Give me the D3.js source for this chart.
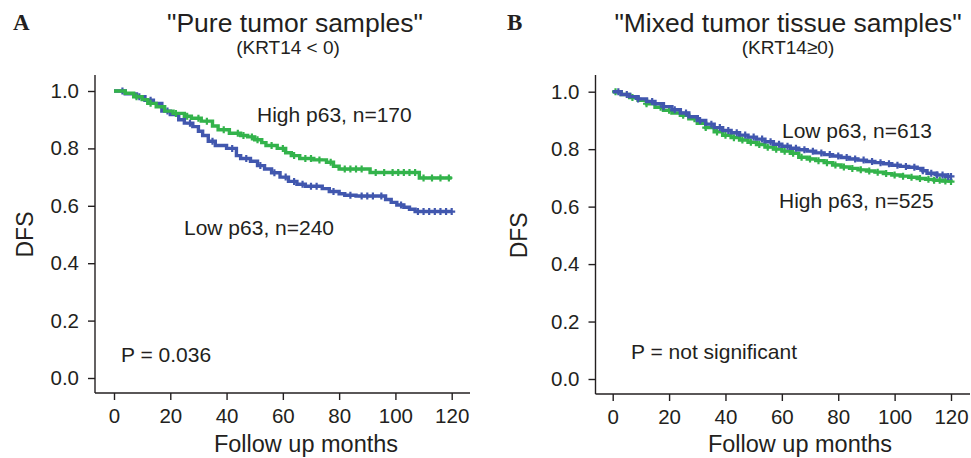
<!DOCTYPE html>
<html>
<head>
<meta charset="utf-8">
<script src="https://cdn.jsdelivr.net/npm/d3@7"></script>
<style>
  body { margin: 0; background: #fff; }
  text { fill: #231f20; }
</style>
</head>
<body>
<svg id="chart" width="971" height="458"></svg>
<script>
// 刻度
const monthTicks = [0, 20, 40, 60, 80, 100, 120]
const dfsTicks = [0, 0.2, 0.4, 0.6, 0.8, 1.0]

// A: "Pure tumor samples" 数据 (月份, DFS)
const pureHighTime = [0, 4, 7, 10, 12, 15, 18, 21, 25, 27.5, 31, 35, 37, 41, 45, 47.5, 50, 52.5, 54, 58, 61, 63, 66, 71, 75.5, 78, 80, 91, 108.5, 120]
const pureHighDfs = [1, 0.992, 0.98, 0.97, 0.957, 0.945, 0.93, 0.922, 0.912, 0.905, 0.895, 0.878, 0.865, 0.853, 0.845, 0.84, 0.83, 0.82, 0.81, 0.8, 0.785, 0.775, 0.765, 0.76, 0.752, 0.738, 0.728, 0.716, 0.697, 0.697]
const pureHighCensor = [8, 13, 22, 26, 30, 33, 39, 44, 46, 49, 51, 56, 60, 64, 68, 70, 73, 77, 82, 84, 86, 88, 93, 96, 99, 101, 103, 105, 107, 110, 113, 116, 119]

const pureLowTime = [0, 4, 8, 11, 14, 17, 20, 23, 25, 28, 30, 31.5, 33.5, 36, 40, 43.5, 45, 48.5, 51, 53.5, 56, 59, 62, 65, 68, 74, 76.5, 80, 82, 86, 96.5, 98.5, 100.5, 103, 105, 107, 120]
const pureLowDfs = [1, 0.99, 0.98, 0.968, 0.957, 0.93, 0.918, 0.9, 0.888, 0.876, 0.86, 0.845, 0.825, 0.81, 0.8, 0.775, 0.765, 0.755, 0.74, 0.728, 0.715, 0.7, 0.685, 0.675, 0.668, 0.66, 0.65, 0.642, 0.637, 0.634, 0.622, 0.612, 0.603, 0.595, 0.588, 0.58, 0.58]
const pureLowCensor = [3, 9, 13, 19, 27, 35, 42, 47, 52, 57, 61, 64, 67, 70, 72, 78, 84, 88, 90, 92, 95, 102, 108, 110, 112, 114, 116, 118, 120]

// B: "Mixed tumor tissue samples" 数据
const mixedLowTime = [0, 3, 6, 9, 12, 15, 18, 21, 24, 27, 30, 33, 36, 39, 42, 45, 48, 51, 54, 57, 60, 63, 66, 69, 72, 75, 78, 81, 84, 87, 90, 93, 96, 99, 102, 105, 108, 110, 111.5, 115, 118, 120]
const mixedLowDfs = [1, 0.99, 0.983, 0.975, 0.966, 0.958, 0.948, 0.937, 0.926, 0.913, 0.9, 0.887, 0.875, 0.865, 0.857, 0.849, 0.842, 0.835, 0.826, 0.817, 0.81, 0.803, 0.798, 0.793, 0.787, 0.781, 0.776, 0.771, 0.766, 0.762, 0.757, 0.753, 0.749, 0.744, 0.74, 0.737, 0.733, 0.725, 0.716, 0.71, 0.705, 0.705]
const mixedLowCensor = [2, 5, 9, 14, 18, 22, 26, 31, 35, 38, 41, 44, 47, 50, 53, 56, 59, 62, 65, 68, 71, 74, 77, 80, 83, 86, 89, 92, 95, 98, 101, 104, 107, 110, 113, 115, 117, 119, 120]

const mixedHighTime = [0, 3, 6, 9, 12, 15, 18, 21, 24, 27, 30, 33, 36, 39, 42, 45, 48, 51, 54, 57, 60, 63, 66, 69, 72, 75, 78, 81, 84, 87, 90, 93, 96, 99, 102, 105, 108, 111, 114, 117, 120]
const mixedHighDfs = [1, 0.99, 0.98, 0.97, 0.958, 0.946, 0.935, 0.926, 0.918, 0.906, 0.89, 0.875, 0.86, 0.848, 0.84, 0.832, 0.824, 0.816, 0.807, 0.8, 0.793, 0.786, 0.772, 0.766, 0.76, 0.753, 0.745, 0.738, 0.733, 0.728, 0.724, 0.72, 0.715, 0.71, 0.706, 0.702, 0.698, 0.695, 0.692, 0.689, 0.687]
const mixedHighCensor = [1, 7, 12, 17, 20, 25, 29, 33, 37, 40, 43, 46, 49, 52, 55, 58, 61, 64, 67, 70, 73, 76, 79, 82, 85, 88, 91, 94, 97, 100, 103, 106, 109, 112, 114, 116, 118, 120]

const blue = '#4157ae'
const green = '#33b34b'
const sans = "'Liberation Sans', Arial, Helvetica, sans-serif"
const serif = "'Liberation Serif', 'Times New Roman', serif"

const svg = d3.select('#chart')

function drawPanel (opt) {
  const { left, right, x0, x1, y0, y1, axisX, axisY, axisTop } = opt
  const g = svg.append('g').style('font-family', sans)
  const x = d3.scaleLinear().domain([0, 120]).range([x0, x1])
  const y = d3.scaleLinear().domain([0, 1]).range([y0, y1])

  // 坐标轴线 (L 形)
  g.append('line').attr('x1', axisX).attr('x2', axisX).attr('y1', axisTop).attr('y2', axisY)
    .attr('stroke', '#231f20').attr('stroke-width', 1.4)
  g.append('line').attr('x1', axisX).attr('x2', right).attr('y1', axisY).attr('y2', axisY)
    .attr('stroke', '#231f20').attr('stroke-width', 1.4)

  const yAxis = g.append('g').attr('transform', `translate(${axisX},0)`)
    .call(d3.axisLeft(y).tickValues(dfsTicks).tickFormat(d3.format('.1f')).tickSize(7).tickPadding(9))
  const xAxis = g.append('g').attr('transform', `translate(0,${axisY})`)
    .call(d3.axisBottom(x).tickValues(monthTicks).tickSize(7).tickPadding(8))
  ;[yAxis, xAxis].forEach(a => {
    a.select('.domain').remove()
    a.selectAll('line').attr('stroke', '#231f20').attr('stroke-width', 1.4)
    a.selectAll('text').style('font-size', '20.5px').style('font-family', sans).attr('fill', '#231f20')
  })

  // 生存曲线
  const line = d3.line().x(d => x(d[0])).y(d => y(d[1])).curve(d3.curveStepAfter)
  opt.series.forEach(s => {
    const pts = s.time.map((t, i) => [t, s.dfs[i]])
    g.append('path').datum(pts)
      .attr('d', line)
      .attr('fill', 'none')
      .attr('stroke', s.color)
      .attr('stroke-width', 3.4)
    const step = d3.scaleThreshold().domain(s.time.slice(1)).range(s.dfs)
    g.selectAll(null).data(s.censor).enter().append('path')
      .attr('transform', d => `translate(${x(d)},${y(step(d))})`)
      .attr('d', 'M-3.5,0H3.5M0,-3.5V3.5')
      .attr('stroke', s.color)
      .attr('stroke-width', 2.2)
  })

  // 文字
  g.append('text').attr('x', left + 12).attr('y', 30)
    .style('font-family', serif)
    .style('font-weight', 'bold').style('font-size', '23px').text(opt.letter)
  g.append('text').attr('x', opt.titleX).attr('y', 32).attr('text-anchor', 'middle')
    .style('font-size', '26.5px').text(opt.title)
  g.append('text').attr('x', opt.subX).attr('y', 54).attr('text-anchor', 'middle')
    .style('font-size', '19px').text(opt.subtitle)
  g.append('text')
    .attr('transform', `translate(${left + 32},${(y0 + y1) / 2}) rotate(-90)`)
    .attr('text-anchor', 'middle').style('font-size', '23px').text('DFS')
  g.append('text').attr('x', opt.xLabelX).attr('y', 452).attr('text-anchor', 'middle')
    .style('font-size', '23.5px').text('Follow up months')
  opt.notes.forEach(n => {
    g.append('text').attr('x', n.x).attr('y', n.y).style('font-size', '21px').text(n.text)
  })
}

drawPanel({
  letter: 'A',
  left: 1,
  right: 470,
  x0: 114, x1: 451.7, y0: 378, y1: 91,
  axisX: 95, axisY: 393, axisTop: 75,
  titleX: 295, subX: 288, xLabelX: 306,
  title: '"Pure tumor samples"',
  subtitle: '(KRT14 < 0)',
  series: [
    { time: pureLowTime, dfs: pureLowDfs, censor: pureLowCensor, color: blue },
    { time: pureHighTime, dfs: pureHighDfs, censor: pureHighCensor, color: green }
  ],
  notes: [
    { x: 257, y: 122, text: 'High p63, n=170' },
    { x: 184, y: 235, text: 'Low p63, n=240' },
    { x: 121, y: 362, text: 'P = 0.036' }
  ]
})

drawPanel({
  letter: 'B',
  left: 495,
  right: 970,
  x0: 612.7, x1: 951, y0: 379, y1: 91.7,
  axisX: 595.5, axisY: 394, axisTop: 75,
  titleX: 788, subX: 788, xLabelX: 800,
  title: '"Mixed tumor tissue samples"',
  subtitle: '(KRT14\u22650)',
  series: [
    { time: mixedHighTime, dfs: mixedHighDfs, censor: mixedHighCensor, color: green },
    { time: mixedLowTime, dfs: mixedLowDfs, censor: mixedLowCensor, color: blue }
  ],
  notes: [
    { x: 782, y: 138, text: 'Low p63, n=613' },
    { x: 779, y: 208, text: 'High p63, n=525' },
    { x: 631, y: 359, text: 'P = not significant' }
  ]
})
</script>
</body>
</html>
